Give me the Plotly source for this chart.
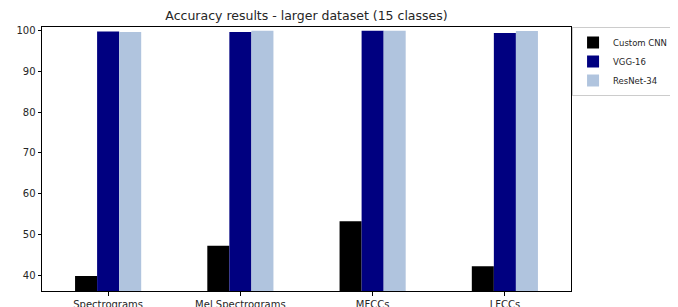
import plotly.graph_objects as go

categories = ["Spectrograms", "Mel Spectrograms", "MFCCs", "LFCCs"]
custom_cnn = [39.8, 47.2, 53.2, 42.2]
vgg16 = [99.8, 99.7, 100.0, 99.4]
resnet34 = [99.7, 100.0, 100.0, 99.9]
y_ticks = [40, 50, 60, 70, 80, 90, 100]

font_family = "DejaVu Sans, Liberation Sans, sans-serif"

fig = go.Figure()
fig.add_trace(go.Bar(x=categories, y=custom_cnn, name="Custom CNN", marker=dict(color="#000000", line=dict(width=0))))
fig.add_trace(go.Bar(x=categories, y=vgg16, name="VGG-16", marker=dict(color="#000080", line=dict(width=0))))
fig.add_trace(go.Bar(x=categories, y=resnet34, name="ResNet-34", marker=dict(color="#B0C4DE", line=dict(width=0))))

fig.update_layout(
    width=670, height=299,
    margin=dict(l=34, r=107, t=19, b=16, autoexpand=False),
    paper_bgcolor="white", plot_bgcolor="white",
    font=dict(family=font_family, size=10, color="#262626"),
    title=dict(text="Accuracy results - larger dataset (15 classes)", x=0.5, xref="paper",
               y=1 - 8 / 299, yanchor="middle", font=dict(size=12.5, color="#262626")),
    barmode="group", bargap=0.5, bargroupgap=0,
    showlegend=True,
    legend=dict(x=1.002, y=1.0, xanchor="left", yanchor="top", bgcolor="white",
                bordercolor="#cccccc", borderwidth=1, font=dict(size=8.5),
                tracegroupgap=0, itemwidth=30),
)
fig.update_xaxes(type="category", range=[-0.5, 3.5], showline=True, linecolor="#000000", linewidth=1,
                 mirror=True, ticks="outside", ticklen=3.5, tickcolor="#000000", showgrid=False,
                 tickfont=dict(size=10))
fig.update_yaxes(range=[36.1, 100.9], tickvals=y_ticks, showline=True, linecolor="#000000", linewidth=1,
                 mirror=True, ticks="outside", ticklen=3.5, tickcolor="#000000", showgrid=False,
                 zeroline=False, tickfont=dict(size=10))

fig.write_html("out.html")
